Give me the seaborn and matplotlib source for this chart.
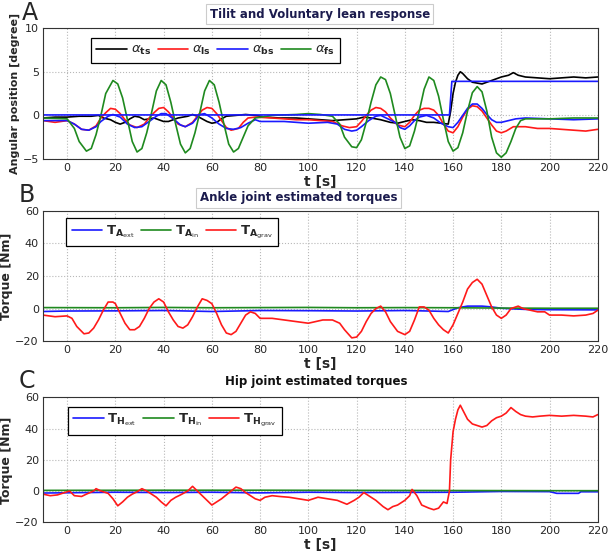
#!/usr/bin/env python3
"""
Tilt / voluntary lean response and estimated joint torques (3 stacked panels)
"""

import numpy as np
import pandas as pd
import matplotlib
matplotlib.use('Agg')
import matplotlib.pyplot as plt
import seaborn as sns

# ---------------- Panel A: angular positions [degree] ----------------
a_fs_t = [-10, 0, 3, 5, 8, 10, 12, 14, 16, 19, 21, 23, 25, 27, 29, 31, 33, 35, 37, 39, 41, 43, 45, 47, 49,
          51, 53, 55, 57, 59, 61, 63, 65, 67, 69, 71, 73, 75, 78, 85, 95, 100, 105, 110, 113, 115, 118, 120,
          122, 124, 126, 128, 130, 132, 134, 136, 138, 140, 142, 144, 146, 148, 150, 152, 154, 156, 158, 160,
          162, 164, 166, 168, 170, 172, 174, 176, 178, 180, 182, 184, 186, 188, 190, 200, 210, 220]
a_fs_v = [-0.3, -0.4, -1.5, -3.0, -4.1, -3.8, -2.2, 0.0, 2.5, 4.0, 3.6, 2.0, -0.5, -3.0, -4.2, -3.8, -2.0, 0.3,
          2.8, 4.0, 3.5, 1.5, -1.0, -3.3, -4.3, -3.8, -2.0, 0.3, 2.8, 4.0, 3.5, 1.5, -1.0, -3.3, -4.2, -3.8,
          -2.5, -1.2, -0.3, 0.0, 0.1, 0.2, 0.1, -0.1, -1.0, -2.5, -3.6, -3.7, -2.8, -0.8, 1.5, 3.5, 4.4, 4.1,
          2.5, 0.0, -2.5, -3.8, -3.5, -1.8, 0.5, 3.0, 4.4, 4.0, 2.2, -0.5, -3.0, -4.1, -3.7, -2.0, 0.5, 2.6,
          3.3, 2.7, 0.5, -2.5, -4.3, -4.8, -4.3, -3.0, -1.5, -0.6, -0.4, -0.4, -0.3, -0.3]

a_ls_t = [-10, -5, 0, 3, 6, 9, 12, 14, 16, 18, 20, 22, 24, 26, 29, 32, 34, 36, 38, 40, 42, 44, 46, 49, 52, 54,
          56, 58, 60, 62, 64, 66, 68, 71, 73, 75, 78, 85, 95, 100, 105, 110, 114, 117, 120, 122, 124, 126,
          128, 130, 132, 134, 137, 140, 142, 144, 146, 148, 150, 152, 154, 156, 158, 160, 162, 164, 166, 168,
          170, 172, 174, 176, 178, 180, 182, 185, 190, 195, 200, 210, 215, 220]
a_ls_v = [-0.6, -0.8, -0.6, -1.0, -1.6, -1.7, -1.2, -0.3, 0.3, 0.8, 0.7, 0.2, -0.5, -1.1, -1.4, -1.0, -0.3, 0.3,
          0.8, 0.9, 0.4, -0.3, -1.0, -1.3, -0.8, -0.1, 0.6, 0.9, 0.8, 0.2, -0.6, -1.4, -1.7, -1.5, -0.8,
          -0.3, -0.2, -0.3, -0.5, -0.5, -0.6, -0.7, -1.2, -1.4, -1.3, -0.7, 0.0, 0.6, 0.9, 0.8, 0.4, -0.3,
          -1.1, -1.3, -0.8, 0.0, 0.6, 0.8, 0.8, 0.6, 0.0, -1.0, -1.8, -2.0, -1.3, -0.2, 0.7, 1.1, 1.0, 0.5,
          -0.3, -1.1, -1.8, -2.0, -1.8, -1.3, -1.3, -1.5, -1.5, -1.7, -1.8, -1.6]

a_bs_t = [-10, 0, 3, 6, 9, 12, 14, 17, 19, 22, 25, 28, 31, 34, 37, 39, 41, 44, 47, 49, 52, 55, 57, 60, 63, 66,
          69, 72, 75, 78, 80, 90, 100, 108, 112, 115, 118, 120, 122, 125, 128, 130, 133, 136, 138, 140, 142,
          144, 146, 149, 152, 155, 158, 160, 162, 164, 166, 168, 170, 172, 174, 176, 178, 180, 183, 186, 190,
          200, 210, 220]
a_bs_v = [-0.6, -0.6, -1.0, -1.6, -1.7, -1.3, -0.7, -0.1, 0.1, -0.2, -1.0, -1.4, -1.3, -0.7, -0.1, 0.2, 0.2,
          -0.4, -1.1, -1.3, -0.9, 0.1, 0.2, -0.3, -1.0, -1.5, -1.6, -1.4, -0.9, -0.5, -0.7, -0.7, -0.9, -0.8,
          -1.0, -1.6, -1.8, -1.7, -1.3, -0.6, -0.1, 0.0, -0.4, -0.8, -1.4, -1.6, -1.2, -0.6, -0.2, 0.0, -0.3,
          -0.9, -1.3, -1.4, -0.8, 0.0, 0.8, 1.3, 1.3, 0.8, 0.1, -0.5, -0.8, -0.8, -0.6, -0.4, -0.3, -0.4,
          -0.5, -0.4]

tilt_ref_t = [-10, 158.5, 159.5, 220]
tilt_ref_v = [0.05, 0.05, 3.9, 3.9]

a_ts_t = [-10, -5, 0, 5, 10, 13, 15, 18, 20, 22, 24, 26, 28, 30, 32, 34, 36, 38, 40, 42, 44, 46, 48, 50, 52,
          54, 56, 58, 60, 62, 64, 66, 70, 74, 78, 82, 88, 95, 100, 105, 110, 115, 120, 123, 126, 130, 134,
          137, 140, 143, 146, 149, 152, 155, 158, 159, 160, 161, 162, 163, 164, 166, 168, 170, 172, 175, 178,
          180, 183, 185, 187, 190, 195, 200, 205, 210, 215, 220]
a_ts_v = [-0.3, -0.2, -0.2, -0.1, -0.1, 0.0, -0.3, -0.5, -0.8, -1.0, -0.8, -0.4, -0.1, -0.2, -0.5, -0.4, -0.3,
          -0.5, -0.7, -0.7, -0.5, -0.3, -0.2, -0.1, 0.1, -0.1, -0.4, -0.7, -0.9, -0.8, -0.4, -0.1, 0.0, 0.1,
          0.0, -0.2, -0.3, -0.3, -0.4, -0.5, -0.6, -0.5, -0.4, -0.2, -0.3, -0.5, -0.8, -0.9, -0.7, -0.5, -0.6,
          -0.8, -0.8, -0.9, -1.0, 0.5, 2.5, 3.8, 4.6, 5.0, 4.8, 4.2, 3.8, 3.7, 3.6, 3.9, 4.2, 4.4, 4.6, 4.9,
          4.6, 4.4, 4.3, 4.2, 4.3, 4.4, 4.3, 4.4]

# ---------------- Panel B: ankle torques [Nm] ----------------
ta_grav_t = [-10, -5, 0, 2, 4, 7, 9, 11, 13, 15, 17, 19, 20, 22, 24, 26, 28, 30, 32, 34, 36, 38, 40, 42, 44,
             46, 48, 50, 52, 54, 56, 58, 60, 62, 64, 66, 68, 70, 72, 74, 76, 78, 80, 85, 90, 95, 100, 103,
             106, 110, 113, 115, 118, 120, 122, 124, 126, 128, 130, 132, 134, 137, 140, 142, 144, 146, 148,
             150, 152, 154, 156, 158, 160, 162, 164, 166, 168, 170, 172, 174, 176, 178, 180, 182, 184, 187,
             189, 192, 195, 198, 200, 205, 210, 215, 218, 220]
ta_grav_v = [-4, -5, -4.5, -6, -11, -15.5, -15, -12, -7, -1, 4, 4, 3, -3, -9, -13, -13, -11, -6, 0, 4, 6, 4,
             -2, -7, -11, -12, -10, -5, 1, 6, 5, 3, -3, -10, -15, -16, -14, -9, -4, -2, -3, -6, -6, -7, -8,
             -9, -8, -7, -7, -9, -13, -18, -17.5, -14, -8, -3, 0, 1.5, -2, -8, -14, -16, -14, -7, 1, 1, -1,
             -6, -10, -13, -15, -10, -3, 4, 12, 16, 18, 15, 8, 1, -4, -6, -4, 0, 1.5, 0, -1, -2, -2, -4, -4,
             -4.5, -4, -3, -1]

ta_ext_t = [-10, 0, 20, 40, 60, 80, 100, 120, 140, 150, 158, 162, 166, 172, 176, 180, 185, 190, 200, 220]
ta_ext_v = [-1.8, -1.5, -1.4, -1.2, -1.8, -1.2, -1.3, -1.5, -1.2, -1.5, -1.8, 0.5, 1.5, 1.5, 1.0, 0.2, -0.2,
            -0.5, -0.7, -0.8]

ta_in_t = [-10, 20, 40, 60, 80, 100, 120, 140, 160, 180, 200, 220]
ta_in_v = [0.6, 0.5, 0.7, 0.5, 0.6, 0.7, 0.5, 0.6, 0.5, 0.3, 0.2, 0.2]

# ---------------- Panel C: hip torques [Nm] ----------------
th_grav_t = [-10, -7, -4, -1, 1, 3, 6, 8, 11, 12, 14, 17, 19, 21, 23, 25, 27, 29, 31, 33, 35, 37, 39, 41, 43,
             45, 47, 50, 52, 54, 56, 58, 60, 62, 64, 66, 68, 70, 72, 74, 76, 78, 80, 82, 85, 88, 92, 96, 100,
             104, 108, 112, 116, 119, 121, 123, 125, 128, 131, 133, 135, 137, 140, 142, 143, 145, 147, 150,
             152, 154, 156, 157.5, 158.5, 159, 160, 161, 162, 163, 164, 166, 168, 170, 172, 174, 176, 178,
             180, 182, 184, 186, 188, 190, 193, 196, 200, 205, 210, 215, 218, 220]
th_grav_v = [-2, -3, -2.5, -1, 0, -3, -3.5, -2, 0, 1.5, 0, -1.5, -5, -9.5, -7, -4, -2, -0.5, 1.5, 0, -2, -4,
             -7, -9.5, -6, -4, -2.5, 0, 3, 0, -3, -6, -9, -7, -5, -2.5, 0, 2.5, 1.5, -1, -3, -5, -6, -4, -3,
             -3.5, -4, -5, -6, -4, -5, -6, -8.5, -6, -4, -1, -3, -6, -10, -12, -10, -9, -6, -3, 1, -3, -9,
             -11, -12, -11, -7, -8, 0, 20, 38, 46, 52, 55, 52, 46, 43, 42, 41, 42, 45, 47, 48, 50, 53.5, 51,
             49, 48, 47.5, 48, 48.5, 48, 48.5, 48, 47.5, 49]

th_ext_t = [-10, 20, 40, 60, 80, 100, 120, 140, 160, 180, 200, 203, 212, 213, 220]
th_ext_v = [-1.3, -0.8, -1.0, -0.8, -1.2, -0.8, -1.0, -0.9, -0.8, -0.3, -0.4, -1.5, -1.5, -0.5, -0.5]

th_in_t = [-10, 40, 80, 120, 160, 200, 220]
th_in_v = [0.4, 0.5, 0.5, 0.4, 0.3, 0.2, 0.2]

BLACK = '#000000'
RED = '#ff1a1a'
BLUE = '#1a1aff'
GREEN = '#1f8a1f'
NAVY = '#1b1b4d'

sns.set_style('white')
plt.rcParams['font.family'] = ['DejaVu Sans']
plt.rcParams['mathtext.fontset'] = 'dejavusans'

fig = plt.figure(figsize=(6.09, 5.52), dpi=100)
ax_a = fig.add_axes([0.0706, 0.712, 0.911, 0.237])
ax_b = fig.add_axes([0.0706, 0.382, 0.911, 0.236])
ax_c = fig.add_axes([0.0706, 0.054, 0.911, 0.226])


def draw(ax, t, v, color, label=None):
    sns.lineplot(x=t, y=v, ax=ax, color=color, lw=1.2, label=label, estimator=None, sort=False)


# A
draw(ax_a, a_ts_t, a_ts_v, BLACK, r'$\alpha_{\mathbf{ts}}$')
draw(ax_a, a_ls_t, a_ls_v, RED, r'$\alpha_{\mathbf{ls}}$')
draw(ax_a, a_bs_t, a_bs_v, BLUE, r'$\alpha_{\mathbf{bs}}$')
draw(ax_a, a_fs_t, a_fs_v, GREEN, r'$\alpha_{\mathbf{fs}}$')
draw(ax_a, tilt_ref_t, tilt_ref_v, BLUE)

# B
draw(ax_b, ta_ext_t, ta_ext_v, BLUE, r'$\mathbf{T}_{\mathbf{A}_{\mathrm{ext}}}$')
draw(ax_b, ta_in_t, ta_in_v, GREEN, r'$\mathbf{T}_{\mathbf{A}_{\mathrm{in}}}$')
draw(ax_b, ta_grav_t, ta_grav_v, RED, r'$\mathbf{T}_{\mathbf{A}_{\mathrm{grav}}}$')

# C
draw(ax_c, th_ext_t, th_ext_v, BLUE, r'$\mathbf{T}_{\mathbf{H}_{\mathrm{ext}}}$')
draw(ax_c, th_in_t, th_in_v, GREEN, r'$\mathbf{T}_{\mathbf{H}_{\mathrm{in}}}$')
draw(ax_c, th_grav_t, th_grav_v, RED, r'$\mathbf{T}_{\mathbf{H}_{\mathrm{grav}}}$')

xticks = list(range(0, 221, 20))
for ax in (ax_a, ax_b, ax_c):
    ax.set_xlim(-10, 220)
    ax.set_xticks(xticks)
    ax.grid(True, linestyle=':', color='#b8b8b8', lw=0.8)
    ax.tick_params(labelsize=8, direction='in', length=3, pad=3)
    ax.set_xlabel('t [s]', fontsize=10, fontweight='bold', labelpad=1)
    for s in ax.spines.values():
        s.set_color('#333333')
        s.set_linewidth(0.8)

ax_a.set_ylim(-5, 10)
ax_a.set_yticks([-5, 0, 5, 10])
ax_a.set_ylabel('Angular position [degree]', fontsize=8, fontweight='bold', labelpad=2)
for ax in (ax_b, ax_c):
    ax.set_ylim(-20, 60)
    ax.set_yticks([-20, 0, 20, 40, 60])
    ax.set_ylabel('Torque [Nm]', fontsize=9, fontweight='bold', labelpad=2)

leg_kw = dict(frameon=True, fancybox=False, edgecolor='black', fontsize=9.5,
              handlelength=2.3, handletextpad=0.3, columnspacing=0.5, borderpad=0.4)
la = ax_a.legend(loc='upper left', bbox_to_anchor=(0.075, 0.975), ncol=4, **leg_kw)
lb = ax_b.legend(loc='upper left', bbox_to_anchor=(0.03, 0.995), ncol=3, **leg_kw)
lc = ax_c.legend(loc='upper left', bbox_to_anchor=(0.033, 0.98), ncol=3, **leg_kw)
for lg in (la, lb, lc):
    lg.get_frame().set_linewidth(0.9)
    lg.get_frame().set_alpha(1)

box = dict(boxstyle='square,pad=0.3', fc='white', ec='#cccccc', lw=0.8)
fig.text(0.525, 0.974, 'Tilit and Voluntary lean response', ha='center', va='center',
         fontsize=8.5, fontweight='bold', color=NAVY, bbox=box)
fig.text(0.49, 0.642, 'Ankle joint estimated torques', ha='center', va='center',
         fontsize=8.5, fontweight='bold', color=NAVY, bbox=box)
fig.text(0.52, 0.309, 'Hip joint estimated torques', ha='center', va='center',
         fontsize=8.5, fontweight='bold', color='#111111')

for letter, x, y in (('A', 0.035, 0.976), ('B', 0.03, 0.646), ('C', 0.03, 0.31)):
    fig.text(x, y, letter, fontsize=17, va='center', ha='left')

fig.savefig('out.png', dpi=100)
